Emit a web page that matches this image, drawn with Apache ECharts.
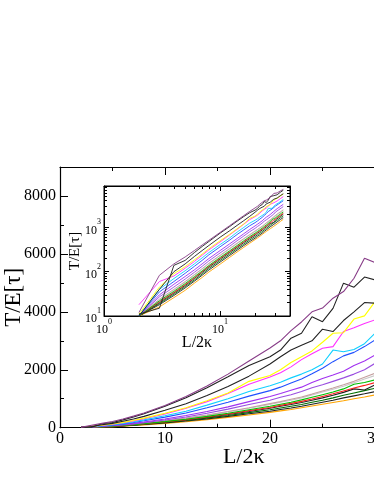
<!DOCTYPE html>
<html>
<head>
<meta charset="utf-8">
<script src="https://cdn.jsdelivr.net/npm/echarts@6/dist/echarts.min.js"></script>
<style>
  html, body { margin: 0; padding: 0; background: #fff; }
  #main { width: 374px; height: 484px; }
</style>
</head>
<body>
<div id="main"></div>
<script>
// L/2kappa values shared by every curve
var xs = [2, 3, 4, 5, 6, 7, 8, 10, 12, 14, 16, 18, 20, 21, 22, 23, 24, 25, 26, 27, 28, 29, 30, 31, 32, 33, 34, 35];

// T/E[tau] for each run
var purple    = [12, 83, 150, 215, 300, 400, 510, 770, 1080, 1440, 1850, 2300, 2750, 3000, 3350, 3650, 4000, 4130, 4470, 4700, 5160, 5850, 5700, 6000, 6300, 6650, 7000, 7200];
var blackA    = [11, 15, 139, 180, 270, 370, 480, 740, 1030, 1380, 1760, 2150, 2450, 2680, 3090, 3260, 3830, 3660, 4120, 4990, 4850, 5200, 5100, 5450, 5800, 6200, 6600, 6900];
var blackB    = [10, 40, 100, 150, 220, 300, 390, 600, 830, 1110, 1420, 1780, 2200, 2450, 2680, 2850, 3000, 3400, 3320, 3700, 4000, 4320, 4300, 4600, 4900, 5200, 5500, 5750];
var yellow    = [11, 45, 90, 130, 185, 250, 330, 500, 690, 930, 1200, 1600, 1800, 2000, 2250, 2450, 2650, 2950, 3260, 3280, 3750, 3860, 4350, 4500, 4800, 5100, 5400, 5650];
var magenta   = [18, 60, 80, 120, 170, 235, 310, 470, 670, 900, 1180, 1500, 1750, 1900, 2100, 2350, 2550, 2740, 2800, 3320, 3450, 3600, 3720, 3950, 4200, 4450, 4700, 4950];
var cyan      = [10, 40, 70, 105, 150, 205, 270, 410, 570, 780, 1000, 1250, 1450, 1570, 1720, 1850, 2000, 2200, 2680, 2620, 2700, 2900, 3260, 3400, 3600, 3850, 4050, 4250];
var blue      = [10, 35, 60, 92, 132, 180, 240, 365, 510, 690, 880, 1090, 1280, 1400, 1540, 1680, 1860, 2050, 2280, 2480, 2600, 2800, 3030, 3200, 3400, 3600, 3800, 4000];
var violet1   = [10, 30, 52, 78, 110, 150, 198, 300, 420, 560, 720, 900, 1080, 1180, 1290, 1400, 1560, 1700, 1820, 1950, 2150, 2300, 2510, 2650, 2800, 2980, 3150, 3320];
var violet2   = [10, 27, 45, 68, 97, 132, 175, 265, 370, 500, 640, 800, 950, 1050, 1140, 1250, 1380, 1480, 1600, 1720, 1850, 2000, 2220, 2350, 2500, 2650, 2800, 2950];
var rosy      = [10, 24, 40, 60, 86, 117, 155, 235, 330, 440, 560, 690, 830, 900, 980, 1060, 1160, 1270, 1370, 1480, 1600, 1740, 1880, 2000, 2110, 2240, 2370, 2500];
var gray      = [10, 23, 38, 58, 83, 113, 150, 228, 320, 425, 545, 670, 800, 880, 950, 1030, 1130, 1230, 1330, 1430, 1550, 1680, 1800, 1900, 2020, 2150, 2280, 2400];
var green     = [10, 22, 36, 54, 77, 104, 138, 210, 293, 390, 500, 620, 740, 810, 880, 960, 1050, 1140, 1230, 1340, 1500, 1560, 1650, 1780, 1880, 2000, 2120, 2230];
var red       = [10, 21, 34, 51, 73, 100, 132, 200, 280, 370, 475, 590, 700, 770, 840, 910, 990, 1080, 1170, 1270, 1370, 1460, 1555, 1660, 1760, 1870, 1980, 2090];
var blackC    = [10, 20, 33, 49, 70, 96, 127, 192, 268, 355, 455, 560, 670, 740, 800, 870, 950, 1030, 1120, 1220, 1340, 1300, 1475, 1570, 1670, 1780, 1880, 1990];
var darkgreen = [10, 19, 31, 46, 65, 89, 118, 178, 248, 330, 420, 520, 620, 680, 740, 800, 880, 950, 1030, 1120, 1200, 1280, 1360, 1450, 1540, 1640, 1730, 1830];
var blackD    = [10, 18, 29, 43, 61, 83, 109, 165, 230, 305, 390, 480, 570, 630, 680, 740, 810, 880, 950, 1030, 1100, 1170, 1245, 1330, 1410, 1500, 1580, 1670];
var orange    = [10, 16, 26, 38, 55, 74, 98, 148, 208, 278, 355, 440, 530, 580, 630, 690, 750, 810, 870, 930, 1000, 1060, 1130, 1200, 1280, 1360, 1440, 1520];

var runs = [
  { data: orange, color: '#ffa500' },
  { data: gray, color: '#c8c8c8' },
  { data: rosy, color: '#c4a0a0' },
  { data: blackD, color: '#222' },
  { data: darkgreen, color: '#006e00' },
  { data: blackC, color: '#222' },
  { data: red, color: '#ff1e1e' },
  { data: green, color: '#00c000' },
  { data: violet2, color: '#9a4ee0' },
  { data: violet1, color: '#a030f0' },
  { data: blue, color: '#1f50ff' },
  { data: cyan, color: '#10d0ff' },
  { data: magenta, color: '#ff30ff' },
  { data: yellow, color: '#ffff00' },
  { data: blackB, color: '#222' },
  { data: blackA, color: '#222' },
  { data: purple, color: '#883d88' }
];

var serif = 'Liberation Serif';

function pairs(vals) {
  return xs.map(function (x, i) { return [x, vals[i]]; });
}

function plain(v) {
  return String(v);
}

function powLabel(v) {
  var e = Math.round(Math.log10(v));
  return '{b|10}{s|' + e + '}';
}

var powRich = {
  b: { fontSize: 12, fontFamily: serif, color: '#000', lineHeight: 18, verticalAlign: 'bottom' },
  s: { fontSize: 8, fontFamily: serif, color: '#000', lineHeight: 18, verticalAlign: 'top' }
};

var blackLine = { lineStyle: { color: '#000', width: 1.2 } };

var series = [];
runs.forEach(function (r) {
  series.push({
    type: 'line', xAxisIndex: 0, yAxisIndex: 0,
    data: pairs(r.data), showSymbol: false, silent: true,
    lineStyle: { color: r.color, width: 1.1 }
  });
});
runs.forEach(function (r) {
  series.push({
    type: 'line', xAxisIndex: 2, yAxisIndex: 1,
    data: pairs(r.data), showSymbol: false, silent: true,
    lineStyle: { color: r.color, width: 0.9 }
  });
});

var chart = echarts.init(document.getElementById('main'));
chart.setOption({
  animation: false,
  backgroundColor: '#fff',
  grid: [
    { left: 60, top: 167, width: 367.5, height: 260.7, containLabel: false, outerBoundsMode: 'none' },
    { left: 104, top: 186, width: 186, height: 130, containLabel: false, outerBoundsMode: 'none',
      show: true, backgroundColor: '#fff', borderColor: '#000', borderWidth: 1 }
  ],
  xAxis: [
    {
      gridIndex: 0, type: 'value', min: 0, max: 35, interval: 10, position: 'bottom',
      axisLine: blackLine,
      axisTick: { inside: true, length: 8, lineStyle: { color: '#000' } },
      minorTick: { show: true, splitNumber: 2, length: 4, lineStyle: { color: '#000' } },
      splitLine: { show: false },
      axisLabel: { fontSize: 16, fontFamily: serif, color: '#000', margin: 3, showMaxLabel: false, formatter: plain },
      name: 'L/2κ', nameLocation: 'middle', nameGap: 19, nameMoveOverlap: false,
      nameTextStyle: { fontSize: 22, fontFamily: serif, color: '#000' }
    },
    {
      gridIndex: 0, type: 'value', min: 0, max: 35, interval: 10, position: 'top',
      axisLine: blackLine,
      axisTick: { inside: true, length: 8, lineStyle: { color: '#000' } },
      minorTick: { show: true, splitNumber: 2, length: 4, lineStyle: { color: '#000' } },
      splitLine: { show: false },
      axisLabel: { show: false }
    },
    {
      gridIndex: 1, type: 'log', logBase: 10, min: 1, max: 40, position: 'bottom',
      axisLine: { lineStyle: { color: '#000', width: 1 } },
      axisTick: { inside: true, length: 5, lineStyle: { color: '#000' } },
      minorTick: { show: true, splitNumber: 9, length: 3, lineStyle: { color: '#000' } },
      splitLine: { show: false },
      axisLabel: { formatter: powLabel, rich: powRich, margin: 2, showMaxLabel: false },
      name: 'L/2κ', nameLocation: 'middle', nameGap: 19, nameMoveOverlap: false,
      nameTextStyle: { fontSize: 16, fontFamily: serif, color: '#000' }
    },
    {
      gridIndex: 1, type: 'log', logBase: 10, min: 1, max: 40, position: 'top',
      axisLine: { lineStyle: { color: '#000', width: 1 } },
      axisTick: { inside: true, length: 5, lineStyle: { color: '#000' } },
      minorTick: { show: true, splitNumber: 9, length: 3, lineStyle: { color: '#000' } },
      splitLine: { show: false },
      axisLabel: { show: false }
    }
  ],
  yAxis: [
    {
      gridIndex: 0, type: 'value', min: 0, max: 9000, interval: 2000, position: 'left',
      axisLine: blackLine,
      axisTick: { inside: true, length: 8, lineStyle: { color: '#000' } },
      minorTick: { show: true, splitNumber: 2, length: 4, lineStyle: { color: '#000' } },
      splitLine: { show: false },
      axisLabel: { fontSize: 16, fontFamily: serif, color: '#000', margin: 4, showMaxLabel: false, formatter: plain },
      name: 'T/E[τ]', nameLocation: 'middle', nameGap: 35, nameMoveOverlap: false,
      nameTextStyle: { fontSize: 23, fontFamily: serif, color: '#000' }
    },
    {
      gridIndex: 1, type: 'log', logBase: 10, min: 10, max: 8600, position: 'left',
      axisLine: { lineStyle: { color: '#000', width: 1 } },
      axisTick: { inside: true, length: 5, lineStyle: { color: '#000' } },
      minorTick: { show: true, splitNumber: 9, length: 3, lineStyle: { color: '#000' } },
      splitLine: { show: false },
      axisLabel: { formatter: powLabel, rich: powRich, margin: 3, showMaxLabel: false },
      name: 'T/E[τ]', nameLocation: 'middle', nameGap: 21, nameMoveOverlap: false,
      nameTextStyle: { fontSize: 15, fontFamily: serif, color: '#000' }
    },
    {
      gridIndex: 1, type: 'log', logBase: 10, min: 10, max: 8600, position: 'right',
      axisLine: { lineStyle: { color: '#000', width: 1 } },
      axisTick: { inside: true, length: 5, lineStyle: { color: '#000' } },
      minorTick: { show: true, splitNumber: 9, length: 3, lineStyle: { color: '#000' } },
      splitLine: { show: false },
      axisLabel: { show: false }
    }
  ],
  series: series
});
</script>
</body>
</html>
